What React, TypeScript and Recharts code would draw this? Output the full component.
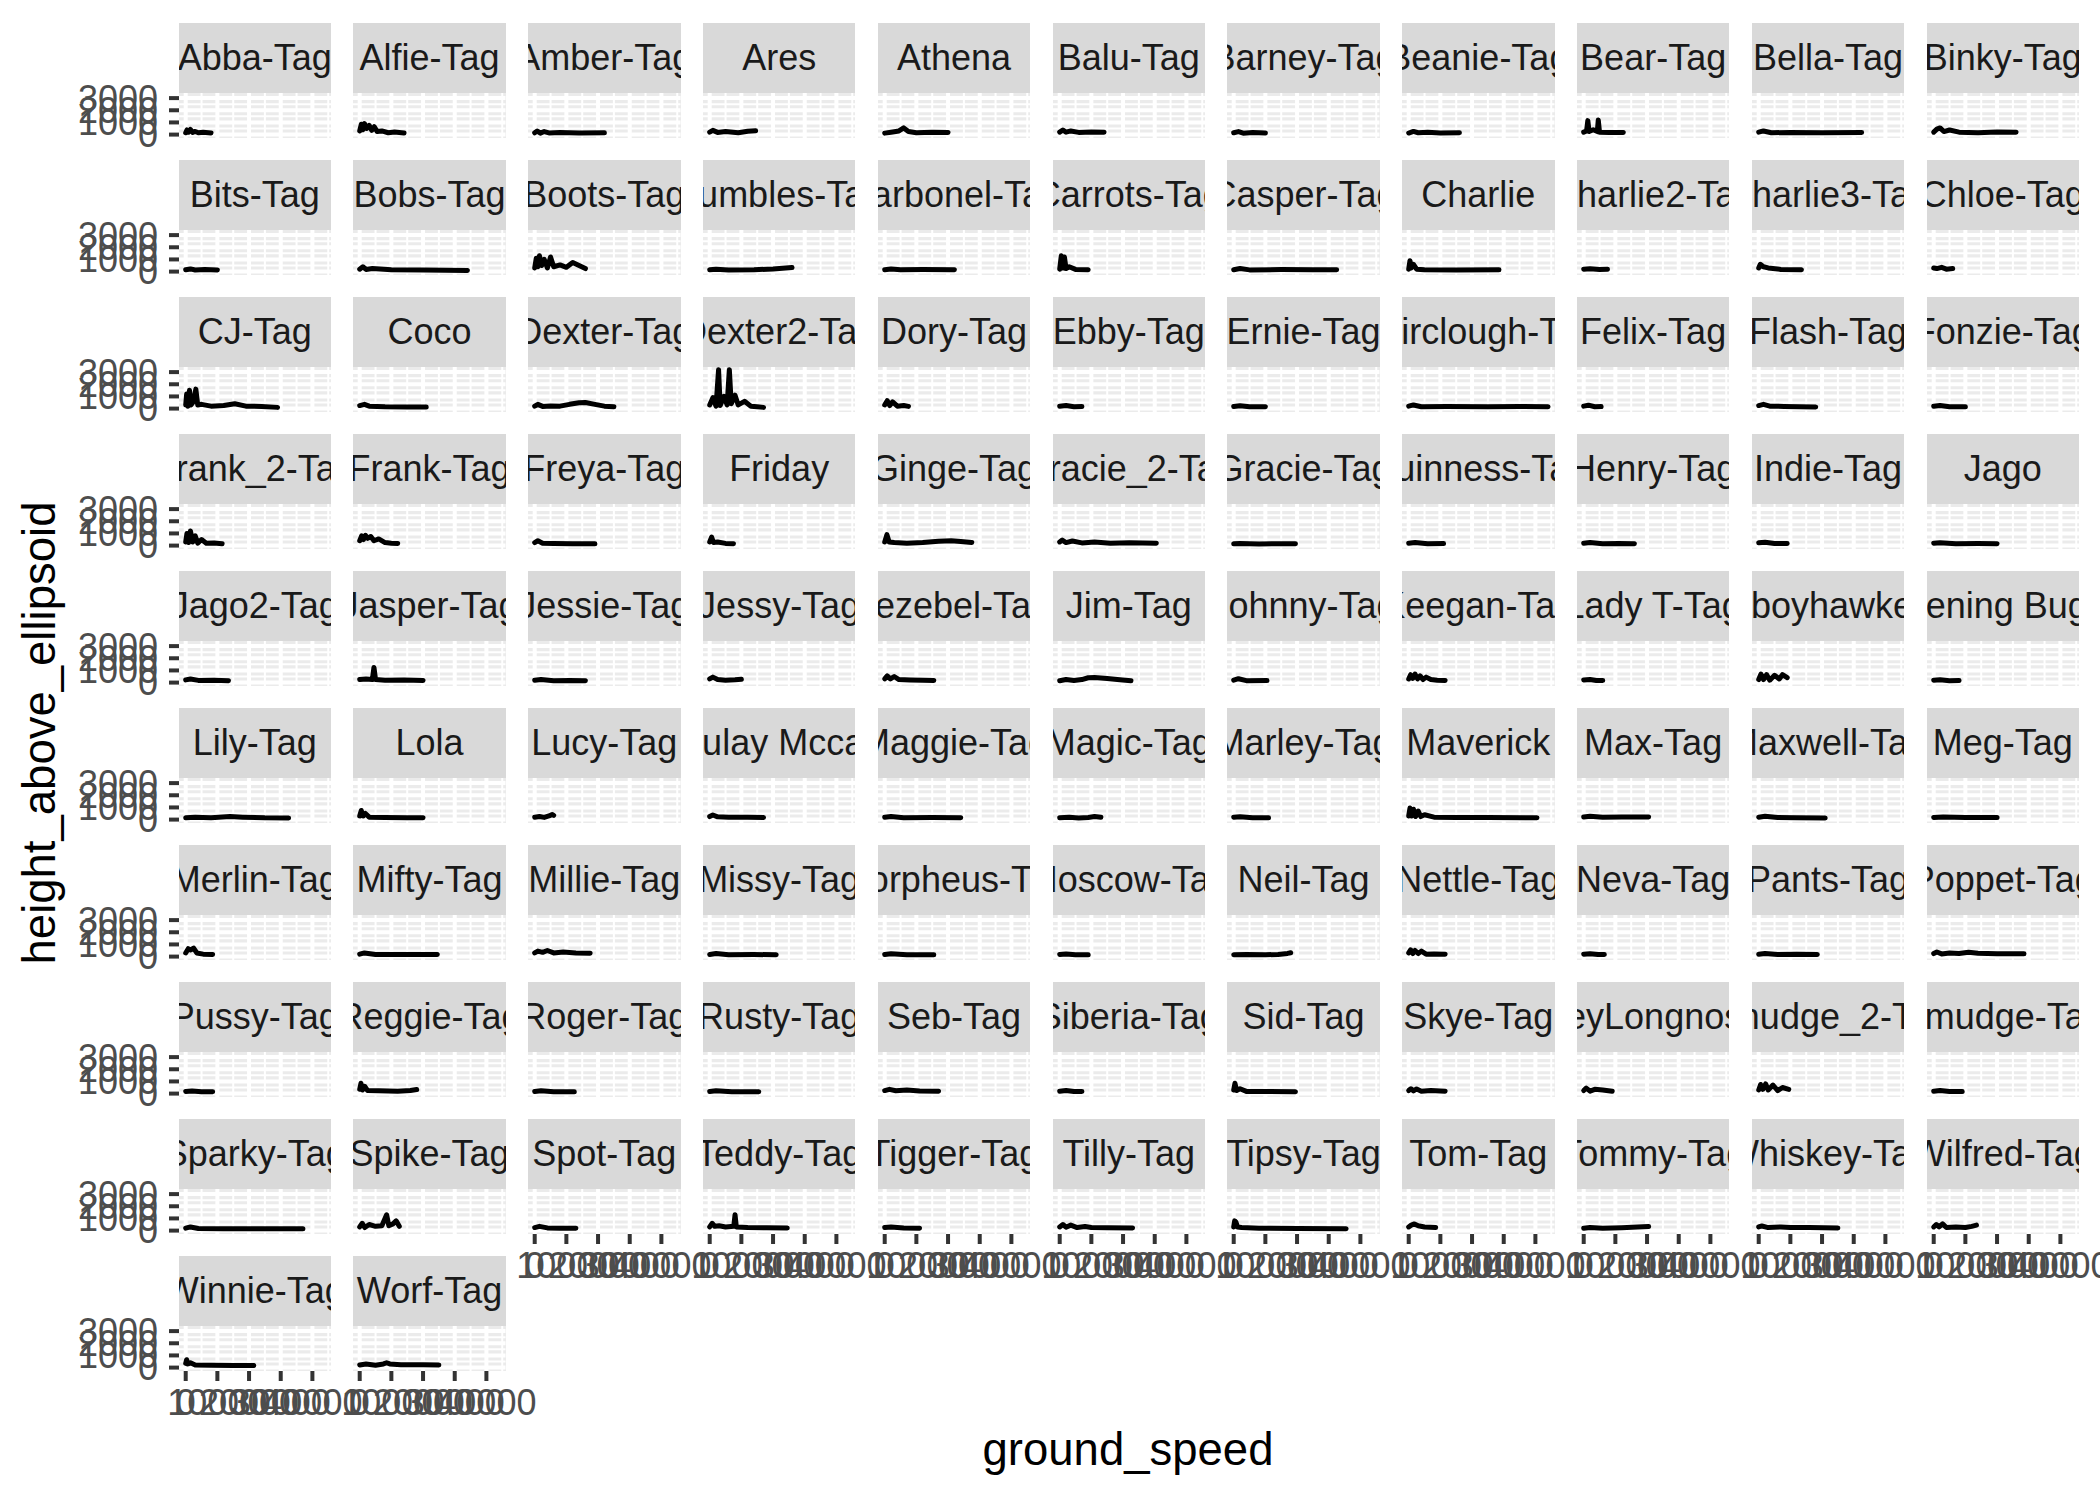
import { LineChart, Line, XAxis, YAxis, ReferenceLine } from 'recharts';

const tagNames = [
  'Abba-Tag', 'Alfie-Tag', 'Amber-Tag', 'Ares', 'Athena', 'Balu-Tag', 'Barney-Tag', 'Beanie-Tag', 'Bear-Tag', 'Bella-Tag', 'Binky-Tag',
  'Bits-Tag', 'Bobs-Tag', 'Boots-Tag', 'Bumbles-Tag', 'Carbonel-Tag', 'Carrots-Tag', 'Casper-Tag', 'Charlie', 'Charlie2-Tag', 'Charlie3-Tag', 'Chloe-Tag',
  'CJ-Tag', 'Coco', 'Dexter-Tag', 'Dexter2-Tag', 'Dory-Tag', 'Ebby-Tag', 'Ernie-Tag', 'Fairclough-Tag', 'Felix-Tag', 'Flash-Tag', 'Fonzie-Tag',
  'Frank_2-Tag', 'Frank-Tag', 'Freya-Tag', 'Friday', 'Ginge-Tag', 'Gracie_2-Tag', 'Gracie-Tag', 'Guinness-Tag', 'Henry-Tag', 'Indie-Tag', 'Jago',
  'Jago2-Tag', 'Jasper-Tag', 'Jessie-Tag', 'Jessy-Tag', 'Jezebel-Tag', 'Jim-Tag', 'Johnny-Tag', 'Keegan-Tag', 'Lady T-Tag', 'Ladyboyhawke-Tag', 'Lightening Bug-Tag',
  'Lily-Tag', 'Lola', 'Lucy-Tag', 'Macaulay Mccartney', 'Maggie-Tag', 'Magic-Tag', 'Marley-Tag', 'Maverick', 'Max-Tag', 'Maxwell-Tag', 'Meg-Tag',
  'Merlin-Tag', 'Mifty-Tag', 'Millie-Tag', 'Missy-Tag', 'Morpheus-Tag', 'Moscow-Tag', 'Neil-Tag', 'Nettle-Tag', 'Neva-Tag', 'Pants-Tag', 'Poppet-Tag',
  'Pussy-Tag', 'Reggie-Tag', 'Roger-Tag', 'Rusty-Tag', 'Seb-Tag', 'Siberia-Tag', 'Sid-Tag', 'Skye-Tag', 'SmokeyLongnose-Tag', 'Smudge_2-Tag', 'Smudge-Tag',
  'Sparky-Tag', 'Spike-Tag', 'Spot-Tag', 'Teddy-Tag', 'Tigger-Tag', 'Tilly-Tag', 'Tipsy-Tag', 'Tom-Tag', 'Tommy-Tag', 'Whiskey-Tag', 'Wilfred-Tag',
  'Winnie-Tag', 'Worf-Tag',
];

// [ground_speed, height_above_ellipsoid] pairs, one track per tag, row by row
const row1Tracks = [
  [[0, 150], [400, 380], [900, 200], [1500, 420], [2200, 180], [3000, 260], [4000, 150], [5500, 200], [8000, 140]],
  [[0, 300], [500, 850], [1000, 400], [1500, 900], [2200, 500], [3000, 750], [3800, 350], [4600, 650], [5500, 250], [7000, 300], [9000, 150], [11000, 220], [14000, 130]],
  [[0, 150], [800, 300], [1800, 120], [3000, 250], [4500, 140], [8000, 180], [14000, 130], [22000, 150]],
  [[0, 200], [1000, 350], [2500, 180], [5000, 250], [9000, 150], [12000, 280], [14500, 320]],
  [[0, 120], [2000, 200], [4500, 300], [6000, 550], [7500, 250], [10000, 150], [15000, 200], [20000, 180]],
  [[0, 200], [1000, 380], [2000, 200], [3500, 300], [6000, 180], [10000, 220], [14000, 200]],
  [[0, 150], [1500, 250], [3000, 120], [6000, 180], [10000, 130]],
  [[0, 130], [1500, 260], [3000, 150], [6000, 200], [10000, 140], [16000, 160]],
  [[0, 200], [900, 300], [1300, 1150], [1700, 250], [3000, 400], [4300, 250], [4600, 1200], [5000, 200], [8000, 180], [12500, 170]],
  [[0, 200], [1500, 300], [4000, 150], [10000, 180], [20000, 160], [32500, 170]],
  [[0, 200], [1000, 450], [2000, 550], [3200, 250], [5000, 380], [8000, 200], [14000, 150], [20000, 220], [26000, 190]],
];

const row2Tracks = [
  [[0, 150], [1500, 220], [3000, 130], [6000, 180], [10000, 140]],
  [[0, 200], [1000, 400], [2000, 180], [4000, 250], [10000, 150], [20000, 130], [34000, 100]],
  [[0, 300], [500, 1100], [1000, 400], [1500, 1300], [2200, 500], [3000, 1000], [4000, 300], [5000, 1200], [6000, 400], [8000, 550], [10000, 350], [12000, 750], [14000, 500], [16000, 250]],
  [[0, 150], [2000, 200], [6000, 130], [14000, 150], [20000, 220], [26000, 330]],
  [[0, 160], [2000, 220], [5000, 150], [12000, 170], [22000, 150]],
  [[0, 200], [500, 1300], [1000, 300], [1500, 1200], [2000, 250], [3000, 400], [5000, 180], [9000, 150]],
  [[0, 150], [2000, 250], [5000, 140], [15000, 170], [25000, 150], [32500, 160]],
  [[0, 200], [400, 900], [800, 300], [1500, 600], [2500, 200], [5000, 150], [15000, 140], [28500, 150]],
  [[0, 200], [2000, 230], [5000, 180], [7500, 200]],
  [[0, 300], [500, 600], [1500, 400], [3000, 300], [7000, 180], [13500, 150]],
  [[0, 300], [1000, 250], [2500, 350], [4000, 200], [6000, 250]],
];

const row3Tracks = [
  [[0, 300], [300, 1200], [700, 200], [1200, 1500], [1700, 300], [2500, 600], [3200, 1600], [3800, 300], [5000, 350], [8000, 200], [12000, 250], [15500, 400], [19000, 200], [24000, 180], [29000, 100]],
  [[0, 250], [1500, 350], [3000, 200], [8000, 150], [15000, 130], [21000, 140]],
  [[0, 200], [1000, 350], [2500, 180], [5000, 220], [8000, 200], [11000, 350], [14000, 480], [16000, 500], [19000, 350], [22000, 200], [25000, 150]],
  [[0, 300], [1000, 900], [2000, 200], [2800, 3200], [3300, 250], [4500, 1000], [5500, 300], [6200, 3200], [6800, 400], [8000, 1100], [9000, 300], [11000, 600], [13000, 200], [15000, 150], [17000, 100]],
  [[0, 300], [800, 650], [1600, 250], [2500, 550], [4000, 200], [6000, 250], [7500, 180]],
  [[0, 200], [2000, 250], [4500, 160], [7000, 180]],
  [[0, 180], [2000, 240], [5000, 160], [10000, 150]],
  [[0, 200], [1500, 300], [4000, 150], [12000, 180], [25000, 160], [35000, 170], [44000, 150]],
  [[0, 200], [1500, 280], [3500, 150], [5500, 170]],
  [[0, 250], [1500, 350], [3500, 200], [8000, 180], [13000, 150], [18000, 140]],
  [[0, 200], [2000, 260], [5000, 150], [10000, 160]],
];

const row4Tracks = [
  [[0, 300], [400, 1000], [900, 250], [1500, 1200], [2200, 300], [3000, 800], [3800, 200], [5000, 500], [6500, 200], [9000, 220], [11500, 150]],
  [[0, 400], [600, 800], [1200, 500], [1800, 850], [2500, 600], [3500, 750], [4500, 400], [6000, 550], [8000, 250], [10000, 200], [12000, 180]],
  [[0, 250], [1000, 400], [2500, 200], [6000, 180], [12000, 150], [19000, 160]],
  [[0, 300], [600, 700], [1200, 250], [2500, 300], [5000, 180], [7500, 160]],
  [[0, 300], [700, 900], [1400, 300], [3000, 250], [7000, 200], [12000, 250], [17000, 350], [21000, 400], [24000, 330], [27500, 260]],
  [[0, 300], [800, 450], [2000, 250], [4000, 380], [7000, 220], [11000, 300], [16000, 200], [22000, 230], [30500, 200]],
  [[0, 150], [2000, 180], [8000, 140], [19500, 150]],
  [[0, 200], [2000, 250], [6000, 160], [11000, 170]],
  [[0, 200], [2000, 250], [6000, 150], [11000, 180], [16000, 160]],
  [[0, 230], [2000, 280], [5000, 170], [9000, 180]],
  [[0, 200], [2000, 240], [7000, 150], [14000, 170], [20000, 160]],
];

const row5Tracks = [
  [[0, 220], [1500, 300], [4000, 180], [9000, 200], [13500, 160]],
  [[0, 250], [2000, 300], [4000, 250], [4500, 1250], [5000, 250], [8000, 200], [14000, 220], [20000, 180]],
  [[0, 200], [2000, 260], [6000, 160], [11000, 180], [16000, 150]],
  [[0, 300], [1000, 450], [2500, 250], [5000, 200], [8000, 230], [10000, 280]],
  [[0, 300], [800, 550], [1800, 300], [3000, 500], [4500, 250], [8000, 220], [12000, 200], [15500, 180]],
  [[0, 150], [2000, 250], [4500, 180], [7000, 250], [9000, 400], [11000, 420], [15000, 330], [19000, 230], [22500, 150]],
  [[0, 200], [1500, 320], [4000, 160], [10500, 180]],
  [[0, 300], [600, 650], [1300, 350], [2000, 700], [2800, 300], [3600, 550], [4500, 250], [5500, 450], [7000, 250], [9000, 200], [11500, 180]],
  [[0, 220], [2000, 260], [4000, 170], [6000, 180]],
  [[0, 250], [700, 700], [1500, 250], [2500, 650], [3500, 200], [5000, 600], [6500, 300], [7500, 650], [9000, 400]],
  [[0, 200], [2000, 230], [5000, 160], [8000, 180]],
];

const row6Tracks = [
  [[0, 150], [3000, 200], [8000, 150], [14000, 250], [18000, 200], [25000, 150], [32500, 140]],
  [[0, 300], [500, 750], [1100, 300], [1800, 500], [3000, 200], [8000, 180], [15000, 160], [20000, 150]],
  [[0, 200], [1500, 250], [3000, 180], [4500, 300], [5500, 420], [6000, 350]],
  [[0, 250], [1000, 380], [2500, 230], [6000, 200], [12000, 190], [17000, 170]],
  [[0, 200], [2000, 260], [6000, 160], [15000, 180], [24000, 150]],
  [[0, 150], [3000, 200], [6000, 140], [9000, 180], [11000, 250], [13000, 200]],
  [[0, 200], [2000, 240], [6000, 150], [11000, 160]],
  [[0, 300], [400, 950], [900, 300], [1500, 850], [2200, 250], [3000, 700], [3800, 250], [5000, 400], [8000, 200], [15000, 180], [25000, 170], [40500, 150]],
  [[0, 220], [2000, 280], [6000, 200], [12000, 220], [20500, 210]],
  [[0, 200], [2000, 280], [6000, 170], [12000, 150], [21000, 130]],
  [[0, 180], [3000, 220], [10000, 170], [20000, 170]],
];

const row7Tracks = [
  [[0, 300], [800, 650], [1600, 550], [2500, 700], [3500, 300], [5500, 200], [8500, 180]],
  [[0, 200], [1500, 300], [5000, 170], [14000, 180], [24500, 170]],
  [[0, 300], [1000, 450], [2500, 350], [4000, 500], [6000, 300], [9000, 380], [13000, 300], [17500, 280]],
  [[0, 180], [2000, 250], [6000, 150], [14000, 170], [21000, 150]],
  [[0, 180], [2000, 230], [7000, 150], [15500, 160]],
  [[0, 180], [2000, 220], [5000, 150], [9000, 160]],
  [[0, 150], [4000, 170], [10000, 150], [14000, 180], [17000, 260], [18000, 320]],
  [[0, 300], [600, 550], [1300, 250], [2000, 500], [3000, 250], [4000, 450], [5500, 200], [8000, 220], [11500, 200]],
  [[0, 200], [2000, 240], [4500, 170], [6500, 180]],
  [[0, 200], [2000, 260], [6000, 180], [12000, 200], [18500, 170]],
  [[0, 250], [1000, 380], [2500, 220], [5000, 300], [8000, 250], [11000, 350], [14000, 280], [20000, 230], [28500, 240]],
];

const row8Tracks = [
  [[0, 180], [2000, 220], [5000, 150], [8500, 160]],
  [[0, 350], [400, 850], [900, 300], [1600, 600], [2500, 250], [6000, 230], [12000, 200], [16000, 250], [18000, 330]],
  [[0, 180], [2000, 240], [6000, 150], [12500, 160]],
  [[0, 180], [2000, 230], [7000, 160], [15500, 150]],
  [[0, 250], [1500, 350], [3500, 230], [7000, 300], [11000, 220], [17000, 200]],
  [[0, 200], [2000, 250], [4500, 170], [7000, 180]],
  [[0, 300], [400, 850], [900, 250], [2000, 400], [4000, 180], [10000, 170], [19500, 160]],
  [[0, 250], [700, 400], [1500, 220], [2500, 380], [4000, 200], [7000, 260], [11500, 200]],
  [[0, 250], [800, 450], [2000, 200], [3500, 350], [6000, 300], [9000, 200]],
  [[0, 300], [600, 750], [1300, 350], [2200, 800], [3000, 300], [4500, 700], [6000, 250], [7500, 500], [9500, 350]],
  [[0, 200], [2000, 250], [5000, 170], [9000, 180]],
];

const row9Tracks = [
  [[0, 200], [1500, 300], [4000, 170], [12000, 160], [25000, 150], [37000, 150]],
  [[0, 300], [800, 600], [1600, 250], [3000, 500], [5000, 350], [7000, 400], [8500, 1300], [9200, 400], [10500, 550], [11500, 800], [12500, 350]],
  [[0, 250], [1500, 350], [4000, 220], [8000, 200], [13000, 190]],
  [[0, 300], [800, 600], [1600, 350], [3000, 400], [5000, 300], [7600, 350], [8000, 1300], [8400, 300], [12000, 250], [18000, 230], [24500, 220]],
  [[0, 250], [2000, 300], [6000, 220], [11000, 200]],
  [[0, 300], [1000, 500], [2000, 280], [3500, 450], [5500, 250], [8000, 330], [10000, 250], [15000, 230], [23000, 220]],
  [[0, 300], [300, 800], [700, 700], [1200, 300], [2500, 250], [8000, 200], [20000, 180], [35500, 160]],
  [[0, 300], [800, 450], [1800, 550], [3000, 400], [5000, 300], [8500, 250]],
  [[0, 200], [2000, 260], [6000, 200], [12000, 240], [17000, 300], [20500, 340]],
  [[0, 300], [1000, 380], [3000, 250], [7000, 300], [10000, 250], [16000, 250], [25000, 220]],
  [[0, 300], [800, 500], [1700, 300], [2800, 550], [4000, 250], [7000, 300], [10000, 250], [12000, 350], [13500, 450]],
];

const row10Tracks = [
  [[0, 350], [300, 650], [700, 300], [1500, 400], [3000, 220], [8000, 200], [15000, 180], [21500, 170]],
  [[0, 220], [2000, 300], [5000, 200], [7500, 300], [8500, 400], [9500, 300], [13000, 240], [20000, 230], [25000, 220]],
];

const speedTicks = [0, 10000, 20000, 30000, 40000];
const speedMinor = [5000, 15000, 25000, 35000, 45000];
const heightTicks = [0, 1000, 2000, 3000];
const heightMinor = [500, 1500, 2500];

const allTracks = [
  ...row1Tracks, ...row2Tracks, ...row3Tracks, ...row4Tracks, ...row5Tracks,
  ...row6Tracks, ...row7Tracks, ...row8Tracks, ...row9Tracks, ...row10Tracks,
];

const FONT = '"Liberation Sans", Arial, Helvetica, sans-serif';
const NCOL = 11;
const PANEL_X0 = 178.5;
const COL_STEP = 174.8;
const PANEL_W = 152.5;
const STRIP_Y0 = 23;
const ROW_STEP = 137;
const STRIP_H = 70;
const PANEL_H = 45;
const AXIS_W = 120;
const AXIS_H = 60;
const X_DOMAIN: [number, number] = [-2116, 46031];
const Y_DOMAIN: [number, number] = [-280, 3420];

const tickStyle = { fontSize: 36, fill: '#4D4D4D', fontFamily: FONT };
const tickLineStyle = { stroke: '#333333', strokeWidth: 4 };

const Panel = ({ index }: { index: number }) => {
  const row = Math.floor(index / NCOL);
  const col = index % NCOL;
  const showY = col === 0;
  const showX = index + NCOL >= tagNames.length;
  const panelX = PANEL_X0 + col * COL_STEP;
  const panelY = STRIP_Y0 + row * ROW_STEP + STRIP_H;
  const data = allTracks[index].map(([s, h]) => ({ s, h }));

  return (
    <div
      style={{
        position: 'absolute',
        left: panelX - (showY ? AXIS_W : 0),
        top: panelY,
      }}
    >
      <LineChart
        width={PANEL_W + (showY ? AXIS_W : 0)}
        height={PANEL_H + (showX ? AXIS_H : 0)}
        data={data}
        margin={{ top: 0, right: 0, bottom: 0, left: 0 }}
      >
        <XAxis
          dataKey="s"
          type="number"
          domain={X_DOMAIN}
          allowDataOverflow
          ticks={speedTicks}
          interval={0}
          hide={!showX}
          height={AXIS_H}
          tickSize={10}
          tickMargin={8}
          tick={tickStyle}
          tickLine={tickLineStyle}
          axisLine={false}
        />
        <YAxis
          type="number"
          domain={Y_DOMAIN}
          allowDataOverflow
          ticks={heightTicks}
          interval={0}
          hide={!showY}
          width={AXIS_W}
          tickSize={10}
          tickMargin={11}
          tick={tickStyle}
          tickLine={tickLineStyle}
          axisLine={false}
        />
        {heightMinor.map((v) => (
          <ReferenceLine key={`hm${v}`} y={v} stroke="#FFFFFF" strokeWidth={2} />
        ))}
        {speedMinor.map((v) => (
          <ReferenceLine key={`sm${v}`} x={v} stroke="#FFFFFF" strokeWidth={2} />
        ))}
        {heightTicks.map((v) => (
          <ReferenceLine key={`h${v}`} y={v} stroke="#FFFFFF" strokeWidth={4} />
        ))}
        {speedTicks.map((v) => (
          <ReferenceLine key={`s${v}`} x={v} stroke="#FFFFFF" strokeWidth={4} />
        ))}
        <Line
          type="linear"
          dataKey="h"
          stroke="#000000"
          strokeWidth={5}
          strokeLinejoin="round"
          strokeLinecap="round"
          dot={false}
          activeDot={false}
          isAnimationActive={false}
        />
      </LineChart>
    </div>
  );
};

const App = () => {
  return (
    <div
      style={{
        position: 'absolute',
        left: 0,
        top: 0,
        width: 2100,
        height: 1500,
        background: '#FFFFFF',
        fontFamily: FONT,
        overflow: 'hidden',
      }}
    >
      <style>{'svg.recharts-surface { overflow: visible; }'}</style>
      {tagNames.map((name, i) => {
        const row = Math.floor(i / NCOL);
        const col = i % NCOL;
        const x = PANEL_X0 + col * COL_STEP;
        const y = STRIP_Y0 + row * ROW_STEP;
        return (
          <div key={`bg${name}`}>
            <div
              style={{
                position: 'absolute',
                left: x,
                top: y,
                width: PANEL_W,
                height: STRIP_H,
                background: '#D9D9D9',
                overflow: 'hidden',
                display: 'flex',
                justifyContent: 'center',
                alignItems: 'center',
                whiteSpace: 'nowrap',
                fontSize: 36,
                color: '#1A1A1A',
              }}
            >
              {name}
            </div>
            <div
              style={{
                position: 'absolute',
                left: x,
                top: y + STRIP_H,
                width: PANEL_W,
                height: PANEL_H,
                background: '#EBEBEB',
              }}
            />
          </div>
        );
      })}
      {tagNames.map((name, i) => (
        <Panel key={name} index={i} />
      ))}
      <div
        style={{
          position: 'absolute',
          left: 1128 - 300,
          top: 1424,
          width: 600,
          textAlign: 'center',
          fontSize: 45.5,
          color: '#000000',
        }}
      >
        ground_speed
      </div>
      <div
        style={{
          position: 'absolute',
          left: 40 - 300,
          top: 733 - 26,
          width: 600,
          height: 52,
          lineHeight: '52px',
          textAlign: 'center',
          fontSize: 45.5,
          color: '#000000',
          transform: 'rotate(-90deg)',
        }}
      >
        height_above_ellipsoid
      </div>
    </div>
  );
};

export default App;
